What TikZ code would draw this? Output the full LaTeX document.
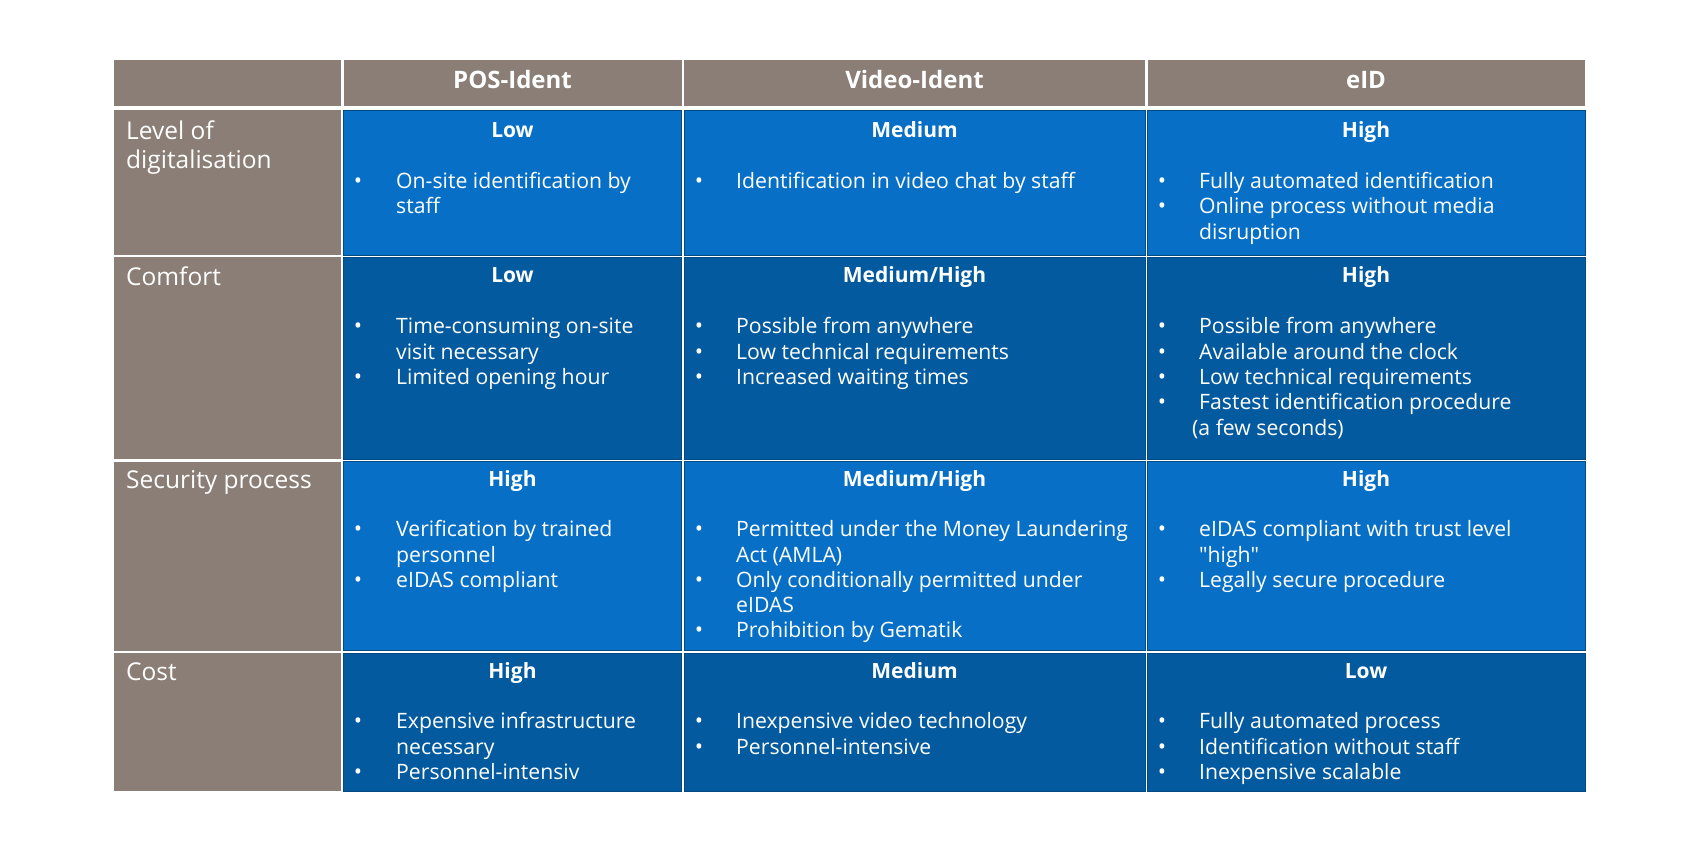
\documentclass[tikz,border=0pt]{standalone}
\usepackage{fontspec}
\setmainfont{Open Sans}
\newfontfamily\rawfont{Open Sans}
\definecolor{greyc}{HTML}{8A7E76}
\definecolor{lblue}{HTML}{0770C6}
\definecolor{dblue}{HTML}{035A9E}
\definecolor{edge}{HTML}{034A85}
\tikzset{
  hd/.style={text=white,font=\fontsize{24}{28}\selectfont\bfseries,inner sep=0pt,anchor=base},
  lvl/.style={text=white,font=\fontsize{21}{25}\selectfont\bfseries,inner sep=0pt,anchor=base},
  lab/.style={text=white,font=\fontsize{24.5}{29}\selectfont,inner sep=0pt,anchor=base west},
  tx/.style={text=white,font=\fontsize{21.2}{25}\selectfont,inner sep=0pt,anchor=base west},
  bt/.style={text=white,font=\fontsize{22}{25}\selectfont,inner sep=0pt,anchor=base},
}
% line: name, x, y(center), text
\newcommand\Ln[4]{\node[tx] (#1) at (#2,#3+7.5) {#4};}
% bullet item: name, bulletx, textx, y, text
\newcommand\Bi[5]{\node[bt] (#1b) at (#2,#4+7.5) {•};\node[tx] (#1) at (#3,#4+7.5) {#5};}
\newcommand\Lb[3]{\node[lab] (#1) at (126,#2+8.5) {#3};}
\begin{document}
\begin{tikzpicture}[x=1pt,y=-1pt]
\useasboundingbox (0,0) rectangle (1700,850);
\fill[white] (0,0) rectangle (1700,850);
% header row
\fill[greyc] (114,60) rectangle (341,106.5);
\fill[greyc] (343.5,60) rectangle (681.5,106.5);
\fill[greyc] (684,60) rectangle (1145,106.5);
\fill[greyc] (1147.5,60) rectangle (1585,106.5);
% label column
\fill[greyc] (114,110.5) rectangle (341,255);
\fill[greyc] (114,257.5) rectangle (341,459);
\fill[greyc] (114,461.5) rectangle (341,650.5);
\fill[greyc] (114,653) rectangle (341,791);
% blue cells
\foreach \xa/\xb in {343.5/681.5,684/1145,1147.5/1585}{
  \filldraw[fill=lblue,draw=edge,line width=0.6pt] (\xa,110.5) rectangle (\xb,255);
  \filldraw[fill=dblue,draw=edge,line width=0.6pt] (\xa,257.5) rectangle (\xb,459);
  \filldraw[fill=lblue,draw=edge,line width=0.6pt] (\xa,461.5) rectangle (\xb,650.5);
  \filldraw[fill=dblue,draw=edge,line width=0.6pt] (\xa,653) rectangle (\xb,791);
}
% headers
\node[hd] (hpos) at (512.5,89) {POS-Ident};
\node[hd] (hvid) at (914.5,89) {Video-Ident};
\node[hd] (heid) at (1366,89) {eID};
% labels
\Lb{la1}{131}{Level of}
\Lb{la2}{160}{digitalisation}
\Lb{lb}{277}{Comfort}
\Lb{lc}{480}{Security process}
\Lb{ld}{672}{Cost}
% row 1
\node[lvl] (a1) at (512.5,138) {Low};
\node[lvl] (a2) at (914.5,138) {Medium};
\node[lvl] (a3) at (1366,138) {High};
\Bi{a1i}{358}{396}{181}{On-site identification by}
\Ln{a1j}{396}{206}{staff}
\Bi{a2i}{699}{736}{181}{Identification in video chat by staff}
\Bi{a3i}{1162}{1199}{181}{Fully automated identification}
\Bi{a3j}{1162}{1199}{206}{Online process without media}
\Ln{a3k}{1199}{232}{disruption}
% row 2
\node[lvl] (b1) at (512.5,283) {Low};
\node[lvl] (b2) at (914.5,283) {Medium/High};
\node[lvl] (b3) at (1366,283) {High};
\Bi{b1i}{358}{396}{326}{Time-consuming on-site}
\Ln{b1j}{396}{352}{visit necessary}
\Bi{b1k}{358}{396}{377}{Limited opening hour}
\Bi{b2i}{699}{736}{326}{Possible from anywhere}
\Bi{b2j}{699}{736}{352}{Low technical requirements}
\Bi{b2k}{699}{736}{377}{Increased waiting times}
\Bi{b3i}{1162}{1199}{326}{Possible from anywhere}
\Bi{b3j}{1162}{1199}{352}{Available around the clock}
\Bi{b3k}{1162}{1199}{377}{Low technical requirements}
\Bi{b3l}{1162}{1199}{402}{Fastest identification procedure}
\Ln{b3m}{1192}{428}{(a few seconds)}
% row 3
\node[lvl] (c1) at (512.5,486) {High};
\node[lvl] (c2) at (914.5,486) {Medium/High};
\node[lvl] (c3) at (1366,486) {High};
\Bi{c1i}{358}{396}{529}{Verification by trained}
\Ln{c1j}{396}{555}{personnel}
\Bi{c1k}{358}{396}{580}{eIDAS compliant}
\Bi{c2i}{699}{736}{529}{Permitted under the Money Laundering}
\Ln{c2j}{736}{555}{Act (AMLA)}
\Bi{c2k}{699}{736}{580}{Only conditionally permitted under}
\Ln{c2l}{736}{605}{eIDAS}
\Bi{c2m}{699}{736}{630}{Prohibition by Gematik}
\Bi{c3i}{1162}{1199}{529}{eIDAS compliant with trust level}
\Ln{c3j}{1199}{555}{{\rawfont"high"}}
\Bi{c3k}{1162}{1199}{580}{Legally secure procedure}
% row 4
\node[lvl] (d1) at (512.5,678) {High};
\node[lvl] (d2) at (914.5,678) {Medium};
\node[lvl] (d3) at (1366,678) {Low};
\Bi{d1i}{358}{396}{721}{Expensive infrastructure}
\Ln{d1j}{396}{747}{necessary}
\Bi{d1k}{358}{396}{772}{Personnel-intensiv}
\Bi{d2i}{699}{736}{721}{Inexpensive video technology}
\Bi{d2j}{699}{736}{747}{Personnel-intensive}
\Bi{d3i}{1162}{1199}{721}{Fully automated process}
\Bi{d3j}{1162}{1199}{747}{Identification without staff}
\Bi{d3k}{1162}{1199}{772}{Inexpensive scalable}
\end{tikzpicture}
\end{document}
